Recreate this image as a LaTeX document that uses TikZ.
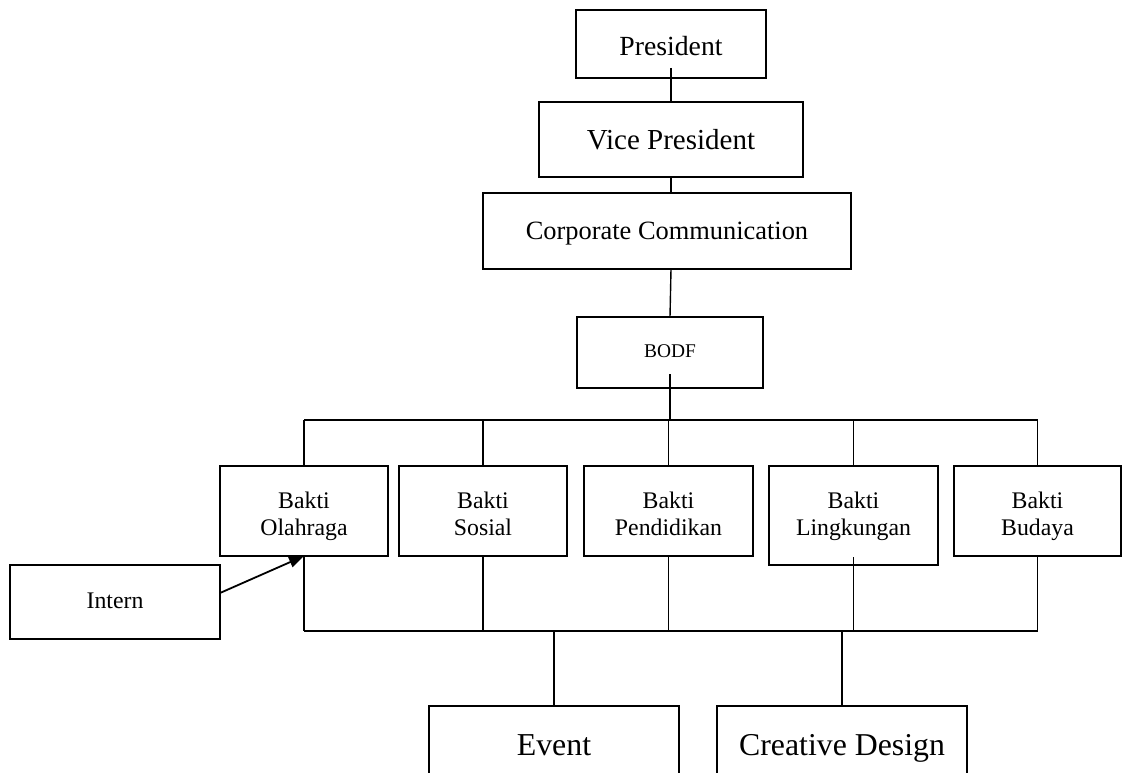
\documentclass[tikz,border=0pt]{standalone}
\usepackage{fontspec}
\setmainfont{Liberation Serif}
\usetikzlibrary{arrows.meta,calc}
\newcommand\mytxt[2]{\raisebox{#1}[0pt][0pt]{#2}}
\newcommand\mytwo[3]{\raisebox{#1}[0pt][0pt]{\begin{tabular}[b]{@{}c@{}}#2\\#3\end{tabular}}}
\begin{document}
\begin{tikzpicture}[x=1pt,y=-1pt,
  box/.style={draw=black, line width=1.4pt, inner sep=0pt, outer sep=0pt, align=center, fill=white},
  bakti/.style={box, minimum width=168pt, minimum height=90pt, font=\fontsize{23.8}{26.7}\selectfont},
  conn/.style={line width=1.4pt},
  bar/.style={line width=1.7pt},
  ]
\useasboundingbox (0,0) rectangle (1122,773);
\clip (0,0) rectangle (1122,773);
\fill[white] (0,0) rectangle (1122,773);

% boxes
\node[box, minimum width=190pt, minimum height=68pt, font=\fontsize{27.7}{33}\selectfont] (pres) at (671,44) {\mytxt{-12pt}{President}};
\node[box, minimum width=264pt, minimum height=75pt, font=\fontsize{29}{35}\selectfont] (vp) at (671,139.5) {\mytxt{-9.5pt}{Vice President}};
\node[box, minimum width=368pt, minimum height=76pt, font=\fontsize{26.4}{32}\selectfont] (cc) at (667,231) {\mytxt{-8pt}{Corporate Communication}};
\node[box, minimum width=186pt, minimum height=71pt, font=\fontsize{19.4}{23}\selectfont] (bodf) at (670,352.5) {\mytxt{-4.5pt}{BODF}};

\node[bakti] (olah) at (304,511) {\mytwo{-24pt}{Bakti}{Olahraga}};
\node[bakti] (sos) at (483,511) {\mytwo{-24pt}{Bakti}{Sosial}};
\node[bakti, minimum width=169pt] (pend) at (668.5,511) {\mytwo{-24pt}{Bakti}{Pendidikan}};
\node[bakti, minimum width=169pt, minimum height=99pt] (ling) at (853.5,515.5) {\mytwo{-19.5pt}{Bakti}{Lingkungan}};
\node[bakti, minimum width=167pt] (bud) at (1037.5,511) {\mytwo{-24pt}{Bakti}{Budaya}};

\node[box, minimum width=210pt, minimum height=74pt, font=\fontsize{23.8}{28}\selectfont] (intern) at (115,602) {\mytxt{-6pt}{Intern}};

\node[box, minimum width=250pt, minimum height=84pt, font=\fontsize{31.9}{38}\selectfont] (event) at (554,748) {\mytxt{-7pt}{Event}};
\node[box, minimum width=250pt, minimum height=84pt, font=\fontsize{31.8}{38}\selectfont] (cd) at (842,748) {\mytxt{-7pt}{Creative Design}};

% connectors, top chain
\draw[conn] ([yshift=10pt]pres.south) -- (vp.north);
\draw[conn] (vp.south) -- (vp.south |- cc.north);
\draw[conn] ([xshift=4pt]cc.south) -- (bodf.north);

% upper bar
\coordinate (tb) at (0,420);
\draw[conn] ([yshift=14pt]bodf.south) -- (bodf.south |- tb);
\draw[bar] (olah.north |- tb) -- (bud.north |- tb);
\draw[conn] (olah.north) -- (olah.north |- tb);
\draw[conn] (sos.north) -- (sos.north |- tb);
\draw[conn] (pend.north) -- (pend.north |- tb);
\draw[conn] (ling.north) -- (ling.north |- tb);
\draw[conn] (bud.north) -- (bud.north |- tb);

% lower bar
\coordinate (bb) at (0,631);
\draw[bar] (olah.south |- bb) -- (bud.south |- bb);
\draw[bar] (olah.south) -- (olah.south |- bb);
\draw[conn] (sos.south) -- (sos.south |- bb);
\draw[conn] (pend.south) -- (pend.south |- bb);
\draw[conn] ([yshift=8pt]ling.south) -- (ling.south |- bb);
\draw[bar] (bud.south) -- (bud.south |- bb);
\draw[bar] (event.north |- bb) -- (event.north);
\draw[bar] (cd.north |- bb) -- (cd.north);

% intern arrow
\draw[line width=1.8pt, -{Triangle[length=15pt,width=11pt]}] ([yshift=9pt]intern.east) -- (olah.south);
\end{tikzpicture}
\end{document}
